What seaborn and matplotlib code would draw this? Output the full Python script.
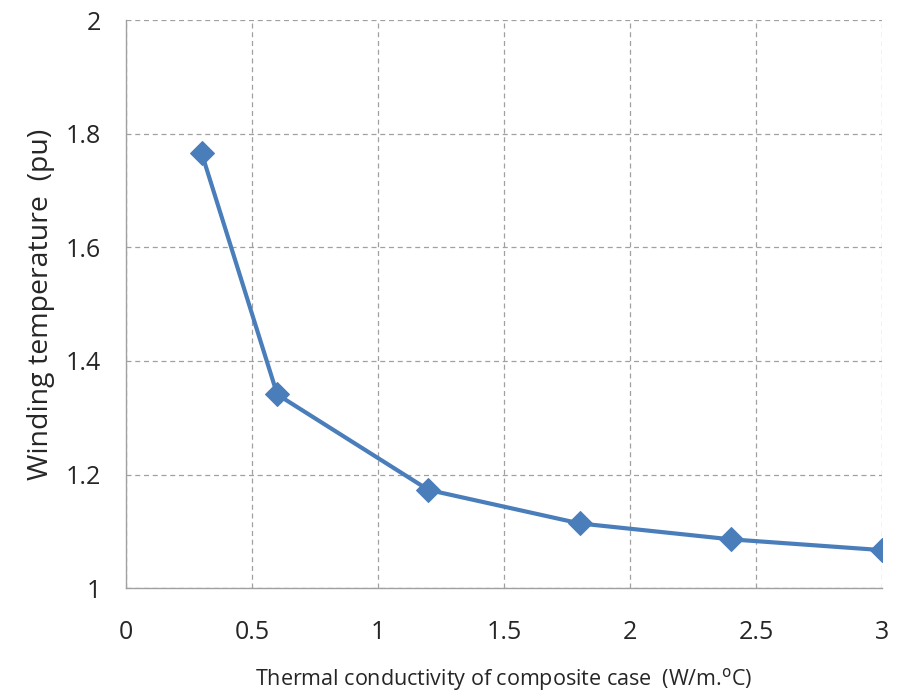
import numpy as np
import pandas as pd
import seaborn as sns
import matplotlib
matplotlib.use('Agg')
import matplotlib.pyplot as plt

# data
conductivity = [0.3, 0.6, 1.2, 1.8, 2.4, 3.0]
winding_temp = [1.766, 1.341, 1.173, 1.114, 1.086, 1.067]

xticks = [0, 0.5, 1, 1.5, 2, 2.5, 3]
xticklabels = ['0', '0.5', '1', '1.5', '2', '2.5', '3']
yticks = [1, 1.2, 1.4, 1.6, 1.8, 2]
yticklabels = ['1', '1.2', '1.4', '1.6', '1.8', '2']

df = pd.DataFrame({'k': conductivity, 'T': winding_temp})

sns.set_style('white')
plt.rcParams['font.family'] = ['Open Sans', 'DejaVu Sans']

fig = plt.figure(figsize=(9.02, 6.92), dpi=100)
ax = fig.add_axes([0.1397, 0.150, 0.8383, 0.821])

sns.lineplot(data=df, x='k', y='T', ax=ax, color='#4a7ebb', linewidth=3,
             marker='D', markersize=12, markeredgecolor='#4a7ebb')

ax.set_xlim(0, 3)
ax.set_ylim(1, 2)
ax.set_xticks(xticks)
ax.set_xticklabels(xticklabels)
ax.set_yticks(yticks)
ax.set_yticklabels(yticklabels)

ax.grid(True, linestyle=(0, (4, 3)), color='#a0a0a0', linewidth=0.9)
for s in ['top', 'right']:
    ax.spines[s].set_visible(False)
for s in ['left', 'bottom']:
    ax.spines[s].set_color('#a0a0a0')
    ax.spines[s].set_linewidth(1.0)

ax.tick_params(axis='both', which='major', direction='out', length=6, width=1,
               color='#a0a0a0', labelsize=18)
ax.tick_params(axis='x', pad=17)
ax.tick_params(axis='y', pad=12)

ax.set_xlabel('Thermal conductivity of composite case  (W/m.$^{\\rm o}$C)', fontsize=15.5, labelpad=15)
ax.set_ylabel('Winding temperature  (pu)', fontsize=20.5, labelpad=8)

fig.savefig('out.png', dpi=100)
